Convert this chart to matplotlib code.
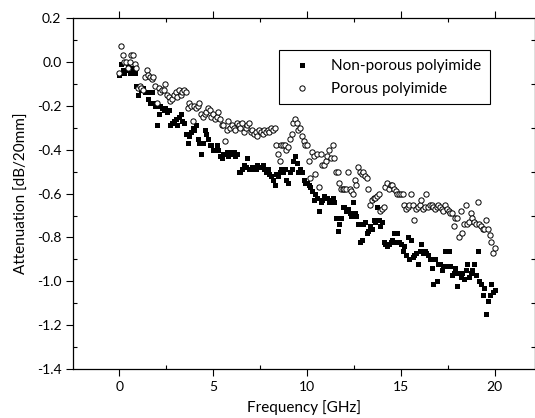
import numpy as np
import matplotlib
matplotlib.use("Agg")
import matplotlib.pyplot as plt
from matplotlib.ticker import MultipleLocator, FormatStrFormatter

plt.rcParams['font.family'] = ['Lato', 'DejaVu Sans']
plt.rcParams['axes.unicode_minus'] = False

# attenuation, evenly spaced over 0..20 GHz
nonporous = [
    -0.06, -0.01, -0.04, -0.05, -0.04, -0.02, -0.05, -0.05, -0.03, -0.05,
    -0.11, -0.15, -0.12, -0.13, -0.12, -0.14, -0.14, -0.17, -0.19, -0.14,
    -0.19, -0.20, -0.29, -0.24, -0.20, -0.21, -0.22, -0.21, -0.23, -0.22,
    -0.29, -0.28, -0.27, -0.26, -0.29, -0.25, -0.24, -0.27, -0.28, -0.33,
    -0.37, -0.34, -0.32, -0.30, -0.31, -0.29, -0.35, -0.37, -0.42, -0.37,
    -0.31, -0.33, -0.35, -0.38, -0.38, -0.40, -0.40, -0.38, -0.40, -0.43,
    -0.44, -0.42, -0.42, -0.41, -0.43, -0.41, -0.42, -0.41, -0.43, -0.42,
    -0.50, -0.50, -0.49, -0.47, -0.48, -0.44, -0.49, -0.49, -0.48, -0.49,
    -0.49, -0.47, -0.48, -0.48, -0.47, -0.49, -0.50, -0.49, -0.51, -0.52,
    -0.54, -0.56, -0.51, -0.52, -0.50, -0.49, -0.50, -0.49, -0.54, -0.55,
    -0.50, -0.49, -0.45, -0.43, -0.46, -0.50, -0.49, -0.50, -0.54, -0.55,
    -0.55, -0.56, -0.57, -0.59, -0.63, -0.60, -0.62, -0.68, -0.64, -0.63,
    -0.61, -0.62, -0.62, -0.64, -0.63, -0.62, -0.64, -0.71, -0.77, -0.74,
    -0.71, -0.66, -0.66, -0.68, -0.67, -0.69, -0.70, -0.64, -0.69, -0.70,
    -0.74, -0.82, -0.81, -0.74, -0.73, -0.78, -0.77, -0.75, -0.76, -0.72,
    -0.73, -0.66, -0.72, -0.75, -0.73, -0.82, -0.83, -0.84, -0.83, -0.82,
    -0.81, -0.78, -0.82, -0.78, -0.82, -0.83, -0.86, -0.84, -0.88, -0.80,
    -0.90, -0.81, -0.89, -0.88, -0.87, -0.92, -0.86, -0.83, -0.87, -0.86,
    -0.87, -0.88, -0.90, -0.94, -1.01, -0.90, -1.00, -0.92, -0.92, -0.95,
    -0.93, -0.86, -0.93, -0.86, -0.93, -0.97, -0.96, -0.94, -1.02, -0.96,
    -0.98, -0.96, -0.99, -0.95, -0.92, -0.98, -0.96, -0.95, -0.92, -0.97,
    -0.86, -1.00, -1.01, -1.06, -1.03, -1.15, -1.09, -1.06, -1.01, -1.05,
    -1.04,
]

porous = [
    -0.05, 0.07, 0.03, 0.00, 0.00, -0.03, 0.00, 0.03, 0.03, -0.01,
    -0.03, -0.12, -0.11, -0.12, -0.13, -0.07, -0.04, -0.06, -0.07, -0.08,
    -0.07, -0.11, -0.19, -0.12, -0.14, -0.13, -0.13, -0.10, -0.15, -0.16,
    -0.18, -0.17, -0.15, -0.14, -0.16, -0.13, -0.15, -0.14, -0.13, -0.14,
    -0.21, -0.19, -0.20, -0.27, -0.20, -0.21, -0.20, -0.19, -0.24, -0.25,
    -0.24, -0.23, -0.21, -0.22, -0.25, -0.24, -0.26, -0.25, -0.23, -0.26,
    -0.29, -0.29, -0.36, -0.31, -0.27, -0.30, -0.29, -0.30, -0.31, -0.28,
    -0.29, -0.30, -0.28, -0.32, -0.30, -0.29, -0.28, -0.32, -0.31, -0.33,
    -0.32, -0.34, -0.31, -0.32, -0.33, -0.31, -0.32, -0.31, -0.32, -0.30,
    -0.31, -0.30, -0.38, -0.42, -0.45, -0.38, -0.38, -0.38, -0.40, -0.39,
    -0.35, -0.33, -0.28, -0.26, -0.28, -0.31, -0.30, -0.34, -0.36, -0.38,
    -0.38, -0.45, -0.53, -0.41, -0.43, -0.51, -0.42, -0.57, -0.42, -0.47,
    -0.47, -0.45, -0.43, -0.40, -0.44, -0.38, -0.44, -0.50, -0.50, -0.55,
    -0.58, -0.58, -0.58, -0.58, -0.50, -0.58, -0.59, -0.60, -0.54, -0.56,
    -0.48, -0.50, -0.51, -0.50, -0.52, -0.53, -0.58, -0.65, -0.63, -0.62,
    -0.62, -0.61, -0.60, -0.68, -0.67, -0.66, -0.57, -0.55, -0.58, -0.56,
    -0.56, -0.58, -0.59, -0.60, -0.60, -0.60, -0.60, -0.65, -0.67, -0.66,
    -0.65, -0.60, -0.65, -0.72, -0.67, -0.66, -0.65, -0.63, -0.67, -0.66,
    -0.60, -0.66, -0.65, -0.65, -0.66, -0.67, -0.66, -0.65, -0.66, -0.67,
    -0.68, -0.65, -0.67, -0.68, -0.69, -0.69, -0.75, -0.71, -0.71, -0.80,
    -0.68, -0.78, -0.74, -0.65, -0.74, -0.73, -0.69, -0.71, -0.73, -0.74,
    -0.64, -0.74, -0.75, -0.76, -0.76, -0.72, -0.76, -0.79, -0.82, -0.87,
    -0.85,
]

freq = np.linspace(0, 20, len(nonporous))

fig = plt.figure(figsize=(5.35, 4.18), dpi=100)
ax = fig.add_axes([0.137, 0.1165, 0.863, 0.841])

ax.plot(freq, nonporous, 's', color='black', markersize=3.6, markeredgewidth=0,
        label='Non-porous polyimide')
ax.plot(freq, porous, 'o', markerfacecolor='white', markeredgecolor='black',
        markersize=3.8, markeredgewidth=0.7, label='Porous polyimide')

ax.set_xlim(-2.45, 22.15)
ax.set_ylim(-1.4, 0.2)
ax.xaxis.set_major_locator(MultipleLocator(5))
ax.xaxis.set_minor_locator(MultipleLocator(2.5))
ax.yaxis.set_major_locator(MultipleLocator(0.2))
ax.yaxis.set_minor_locator(MultipleLocator(0.1))
ax.yaxis.set_major_formatter(FormatStrFormatter('%.1f'))

ax.tick_params(which='major', direction='out', length=5, width=0.8, labelsize=10,
               top=True, right=True)
ax.tick_params(which='minor', direction='in', length=3, width=0.8, top=True, right=True)
for s in ax.spines.values():
    s.set_linewidth(0.9)

ax.set_xlabel('Frequency [GHz]', fontsize=11, labelpad=5)
ax.set_ylabel('Attenuation [dB/20mm]', fontsize=11, labelpad=6)

leg = ax.legend(loc='upper left', bbox_to_anchor=(0.445, 0.907), borderaxespad=0,
                fontsize=11, frameon=True, fancybox=False, edgecolor='black',
                framealpha=1, handletextpad=0.9, borderpad=0.55, labelspacing=0.6,
                handlelength=2.0)
leg.get_frame().set_linewidth(0.8)

fig.savefig('out.png', dpi=100)
